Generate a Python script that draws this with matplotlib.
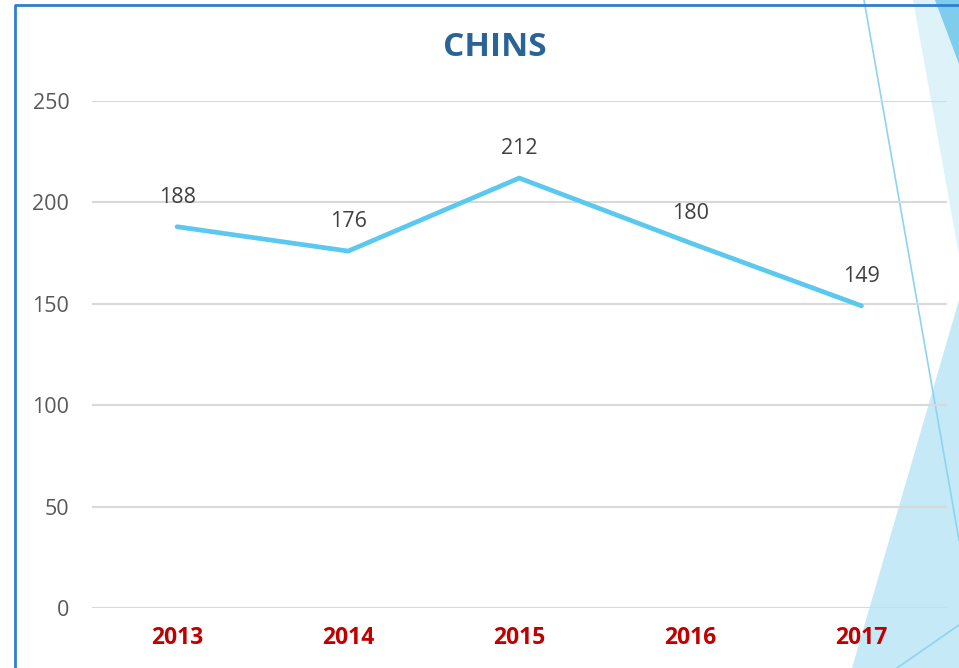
import matplotlib.pyplot as plt
from matplotlib.patches import Polygon
from matplotlib.lines import Line2D

# data
years = ["2013", "2014", "2015", "2016", "2017"]
chins = [188, 176, 212, 180, 149]
y_ticks = [0, 50, 100, 150, 200, 250]

W, H = 959, 668
fig = plt.figure(figsize=(W / 100, H / 100), dpi=100)
fig.patch.set_facecolor("white")


def px(x, y):
    # pixel coords (top-left origin) -> figure fraction
    return (x / W, 1 - y / H)


# background decoration on the right
shapes = [
    ([(913, 0), (959, 0), (959, 255)], "#def2fa"),
    ([(935, 0), (959, 0), (959, 64)], "#7fcdec"),
    ([(852, 668), (959, 300), (959, 668)], "#c5e9f7"),
]
for pts, col in shapes:
    fig.patches.append(Polygon([px(*p) for p in pts], closed=True, transform=fig.transFigure,
                               facecolor=col, edgecolor="none", zorder=-2))
for (x0, y0), (x1, y1) in [((864, 0), (959, 540)), ((897, 668), (959, 625))]:
    a, b = px(x0, y0), px(x1, y1)
    fig.lines.append(Line2D([a[0], b[0]], [a[1], b[1]], transform=fig.transFigure,
                            color="#8fd4ef", lw=1.2, zorder=-1))

# frame lines (left and top)
a, b, c = px(15, 668), px(15, 5), px(959, 5)
fig.lines.append(Line2D([a[0], b[0], c[0]], [a[1], b[1], c[1]], transform=fig.transFigure,
                        color="#2f7fcf", lw=2, zorder=5))

ax = fig.add_axes([91.5 / W, 60 / H, (947 - 91.5) / W, (608 - 101) / H])
ax.patch.set_alpha(0)

x = range(len(years))
ax.plot(x, chins, color="#5bc8ef", lw=3.4, solid_capstyle="round", zorder=3)
for i, v in zip(x, chins):
    ax.annotate(str(v), (i, v), xytext=(0, 21), textcoords="offset points",
                ha="center", va="center", fontsize=15.5, color="#404040", family="Open Sans")

ax.set_xlim(-0.5, len(years) - 0.5)
ax.set_ylim(0, 250)
ax.set_yticks(y_ticks)
ax.set_xticks(list(x))
ax.set_xticklabels(years, fontsize=16.5, fontweight="bold", color="#c00000", family="Open Sans")
for lab in ax.get_yticklabels():
    lab.set_fontsize(15.5)
    lab.set_color("#595959")
    lab.set_family("Open Sans")
ax.tick_params(length=0)
ax.tick_params(axis="y", pad=16)
ax.tick_params(axis="x", pad=13)
ax.grid(axis="y", color="#d9d9d9", lw=1.5)
ax.set_axisbelow(True)
for s in ax.spines.values():
    s.set_visible(False)

fig.text(495 / W, 1 - 47 / H, "CHINS", ha="center", va="center", fontsize=24,
         fontweight="bold", color="#2a6496", family="Open Sans")

fig.savefig("out.png", dpi=100)
